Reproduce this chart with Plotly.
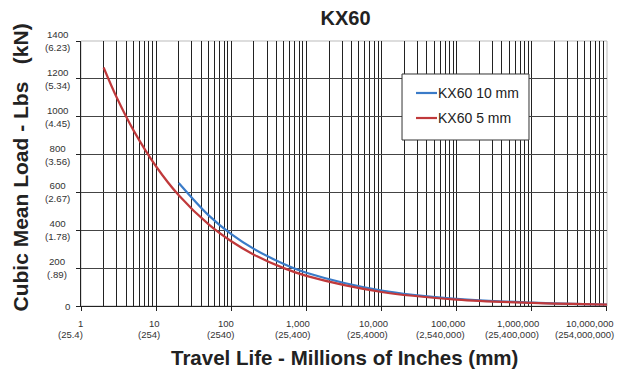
import math
import plotly.graph_objects as go

# ---- data ----
life_5mm = [2, 3, 5, 10, 20, 50, 100, 200, 500, 1000, 10000, 100000, 1000000, 10000000]
load_5mm = [1260, 1100, 928, 737, 585, 431, 342, 271, 200, 159, 74, 34, 16, 7]

life_10mm = [20, 50, 100, 200, 500, 1000, 10000, 100000, 1000000, 10000000]
load_10mm = [650, 479, 380, 302, 222, 176, 82, 38, 18, 8]

series_names = ["KX60 10 mm", "KX60 5 mm"]
series_colors = ["#3A7BC8", "#C0393B"]

x_tick_vals = [1, 10, 100, 1000, 10000, 100000, 1000000, 10000000]
x_tick_top = ["1", "10", "100", "1,000", "10,000", "100,000", "1,000,000", "10,000,000"]
x_tick_bottom = ["(25.4)", "(254)", "(2540)", "(25,400)", "(25,4000)", "(2,540,000)",
                 "(25,400,000)", "(254,000,000)"]

y_tick_vals = [0, 200, 400, 600, 800, 1000, 1200, 1400]
y_tick_text = ["0", "200<br>(.89)", "400<br>(1.78)", "600<br>(2.67)", "800<br>(3.56)",
               "1000<br>(4.45)", "1200<br>(5.34)", "1400<br>(6.23)"]

minor_vals = [m * 10 ** d for d in range(7) for m in range(2, 10)]

fig = go.Figure()
fig.add_trace(go.Scatter(x=life_10mm, y=load_10mm, mode="lines", name=series_names[0],
                         line=dict(color=series_colors[0], width=2.2, shape="spline")))
fig.add_trace(go.Scatter(x=life_5mm, y=load_5mm, mode="lines", name=series_names[1],
                         line=dict(color=series_colors[1], width=2.2, shape="spline")))

font_family = "Liberation Sans, Arial, sans-serif"

fig.update_layout(
    width=618, height=375,
    margin=dict(l=81, r=11, t=41, b=69),
    paper_bgcolor="white", plot_bgcolor="white",
    font=dict(family=font_family, color="#222"),
    title=dict(text="<b>KX60</b>", x=0.5591, xanchor="center", y=0.953, yanchor="middle",
               font=dict(size=20, color="#222")),
    showlegend=False,
    xaxis=dict(
        type="log", range=[0, 7.0004], automargin=False,
        tickvals=x_tick_vals, ticktext=[""] * len(x_tick_vals),
        showgrid=True, gridcolor="#222", gridwidth=1,
        minor=dict(tickvals=minor_vals, showgrid=True, gridcolor="#222", gridwidth=1,
                   ticks=""),
        ticks="outside", ticklen=4, tickcolor="#222",
        showline=True, linecolor="#222", linewidth=1,
        mirror=False, zeroline=False,
    ),
    yaxis=dict(
        range=[0, 1400], automargin=False,
        tickvals=y_tick_vals, ticktext=[""] * len(y_tick_vals),
        showgrid=True, gridcolor="#444", gridwidth=1,
        ticks="outside", ticklen=4, tickcolor="#222",
        showline=True, linecolor="#222", linewidth=1,
        zeroline=False,
    ),
)

# x tick labels: two right-aligned lines, placed like the reference
# (annotation x on a log axis is given in log10 units)
x_label_shift = [4, 6, 5, 6, 8, 10, 9, 9]
for v, top, bot, sh in zip(x_tick_vals, x_tick_top, x_tick_bottom, x_label_shift):
    for txt, ys in ((top, -17), (bot, -28)):
        fig.add_annotation(x=math.log10(v), xref="x", y=0, yref="paper", text=txt,
                           showarrow=False, xanchor="right", yanchor="middle",
                           align="right", xshift=sh, yshift=ys,
                           font=dict(size=9.5, color="#333"))

# y tick labels, centred like the reference
for v, t in zip(y_tick_vals, y_tick_text):
    fig.add_annotation(x=0, xref="paper", y=v, yref="y", text=t, showarrow=False,
                       xanchor="center", yanchor="middle", align="center",
                       xshift=-13 if v == 0 else -24,
                       font=dict(size=9.7, color="#333"))

# axis titles
fig.add_annotation(x=0, xref="paper", y=0.5, yref="paper",
                   text="<b>Cubic Mean Load - Lbs &nbsp; (kN)</b>", textangle=-90,
                   showarrow=False, xanchor="center", yanchor="middle",
                   xshift=-61, yshift=6,
                   font=dict(size=21, color="#222"))
fig.add_annotation(x=0.5, xref="paper", y=0, yref="paper",
                   text="<b>Travel Life - Millions of Inches (mm)</b>",
                   showarrow=False, xanchor="center", yanchor="middle", yshift=-51,
                   font=dict(size=20.5, color="#222"))

# legend box drawn in paper coordinates
fig.add_shape(type="rect", xref="paper", yref="paper", x0=0.6103, x1=0.8517,
              y0=0.6264, y1=0.8755, fillcolor="white", line=dict(color="#333", width=1),
              layer="above")
for i, (nm, col) in enumerate(zip(series_names, series_colors)):
    yy = 0.8038 - i * 0.0944
    fig.add_shape(type="line", xref="paper", yref="paper", x0=0.6369, x1=0.6768,
                  y0=yy, y1=yy, line=dict(color=col, width=2.2), layer="above")
    fig.add_annotation(x=0.6768, xref="paper", y=yy, yref="paper", text=nm,
                       showarrow=False, xanchor="left", yanchor="middle", xshift=-1,
                       font=dict(size=14, color="#222"))

# light grey frame on top and right of plot area
fig.add_shape(type="rect", xref="paper", yref="paper", x0=0, y0=0, x1=1, y1=1,
              line=dict(color="#bbbbbb", width=1), layer="below")

fig.write_html("out.html")
